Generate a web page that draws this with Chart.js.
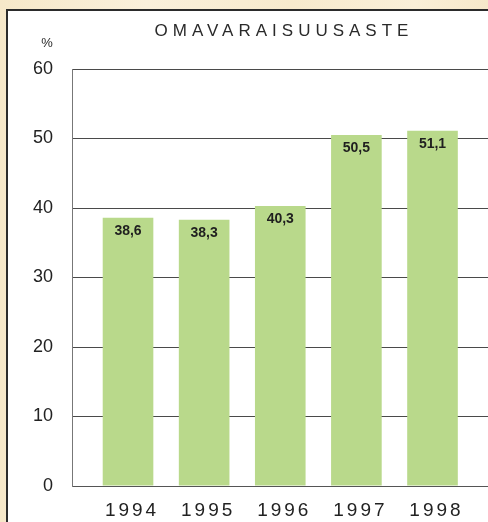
<!DOCTYPE html>
<html>
<head>
<meta charset="utf-8">
<script src="https://cdn.jsdelivr.net/npm/chart.js@4"></script>
<style>
  html, body { margin: 0; padding: 0; }
  body {
    width: 488px; height: 522px; overflow: hidden; position: relative;
    background: linear-gradient(90deg, #f6e8c9 0%, #faf0db 30%, #f7eacd 60%, #faefd8 85%, #f6e8ca 100%);
  }
  #panel {
    position: absolute; left: 6px; top: 9px; width: 520px; height: 540px;
    background: #fff; border: 2px solid #2b2b2b;
  }
  #chart { position: absolute; left: 0; top: 0; }
</style>
</head>
<body>
<div id="panel"></div>
<canvas id="chart" width="488" height="522"></canvas>
<script>
let years = ["1994", "1995", "1996", "1997", "1998"];
let values = [38.6, 38.3, 40.3, 50.5, 51.1];
let title = "OMAVARAISUUSASTE";
let unit = "%";
let yTicks = [0, 10, 20, 30, 40, 50, 60];

let font = "'Liberation Sans', Arial, Helvetica, sans-serif";

// draws title, unit and the bar value labels
let textPlugin = {
  id: "texts",
  beforeDraw(chart) {
    chart.ctx.letterSpacing = "0px";
  },
  afterDatasetsDraw(chart) {
    let ctx = chart.ctx;
    let meta = chart.getDatasetMeta(0);
    ctx.save();
    ctx.font = "bold 14px " + font;
    ctx.fillStyle = "#1f1f1f";
    ctx.textAlign = "center";
    ctx.textBaseline = "middle";
    meta.data.forEach((bar, i) => {
      ctx.fillText(values[i].toFixed(1).replace(".", ","), bar.x, bar.y + 13);
    });
    ctx.restore();
    // x labels are drawn after this (ticks.z = 1), spaced out
    ctx.letterSpacing = "3px";
  },
  afterDraw(chart) {
    let ctx = chart.ctx;
    let area = chart.chartArea;
    ctx.save();
    ctx.letterSpacing = "5px";
    ctx.font = "17px " + font;
    ctx.fillStyle = "#2a2a2a";
    ctx.textAlign = "center";
    ctx.textBaseline = "middle";
    ctx.fillText(title, (area.left + area.right) / 2 + 4, 31);
    ctx.letterSpacing = "0px";
    ctx.font = "13px " + font;
    ctx.fillText(unit, 47, 43);
    ctx.restore();
    ctx.letterSpacing = "0px";
  },
};

new Chart("chart", {
  type: "bar",
  data: {
    datasets: [
      {
        data: years.map((y, i) => ({ x: i, y: values[i] })),
        backgroundColor: "#b9d98b",
        borderWidth: 0,
        barPercentage: 0.665,
        categoryPercentage: 1,
      },
    ],
  },
  options: {
    responsive: false,
    animation: false,
    layout: { padding: { top: 69, left: 0, right: 0, bottom: 0 } },
    plugins: {
      legend: { display: false },
      tooltip: { enabled: false },
    },
    scales: {
      x: {
        type: "linear",
        offset: false,
        min: -0.736,
        max: 4.729,
        afterBuildTicks: (s) => {
          s.ticks = years.map((y, i) => ({ value: i }));
        },
        afterFit: (s) => {
          s.height = 36;
        },
        grid: { display: false, drawTicks: false, offset: false },
        border: { display: true, color: "#555", width: 1 },
        ticks: {
          z: 1,
          padding: 13,
          labelOffset: 4,
          maxRotation: 0,
          autoSkip: false,
          color: "#222",
          font: { family: font, size: 19 },
          callback: (v) => years[v] ?? "",
        },
      },
      y: {
        min: 0,
        max: 60,
        afterBuildTicks: (s) => {
          s.ticks = yTicks.map((v) => ({ value: v }));
        },
        afterFit: (s) => {
          s.width = 72;
        },
        grid: { color: "#4a4a4a", lineWidth: 1, drawTicks: false },
        border: { display: true, color: "#777", width: 1 },
        ticks: {
          padding: 19,
          color: "#222",
          font: { family: font, size: 18 },
        },
      },
    },
  },
  plugins: [textPlugin],
});
</script>
</body>
</html>
